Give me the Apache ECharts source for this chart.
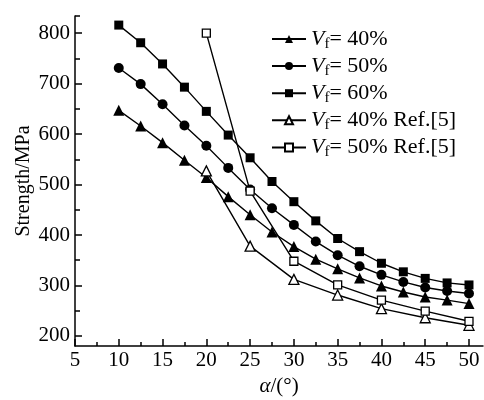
<!DOCTYPE html>
<html>
<head>
    <meta charset="utf-8">
    <title>Strength vs angle</title>
    <style>
        body { margin: 0; background: #fff; }
    </style>
</head>
<body>
    <div id="main" style="width: 484px;height:400px;"></div>

    <script src="https://cdnjs.cloudflare.com/ajax/libs/echarts/6.0.0/echarts.min.js"></script>
    <script>
        // angle values (deg)
        var angles = [10, 12.5, 15, 17.5, 20, 22.5, 25, 27.5, 30, 32.5, 35, 37.5, 40, 42.5, 45, 47.5, 50];
        var refAngles = [20, 25, 30, 35, 40, 45, 50];

        // strength (MPa)
        var vf40 = [647, 616, 583, 548, 514, 476, 440, 406, 377, 352, 333, 315, 299, 287, 277, 271, 264];
        var vf50 = [731, 699, 659, 617, 577, 533, 490, 453, 420, 387, 360, 338, 321, 307, 296, 289, 284];
        var vf60 = [816, 781, 739, 693, 645, 598, 553, 506, 466, 428, 393, 367, 344, 327, 314, 305, 301];
        var ref40 = [527, 378, 312, 281, 254, 236, 221];
        var ref50 = [800, 487, 348, 301, 271, 249, 229];

        var legendText = ['= 40%', '= 50%', '= 60%', '= 40% Ref.[5]', '= 50% Ref.[5]'];
        var xMajor = [5, 10, 15, 20, 25, 30, 35, 40, 45, 50];
        var xMinor = [7.5, 12.5, 17.5, 22.5, 27.5, 32.5, 37.5, 42.5, 47.5];
        var yMajor = [200, 300, 400, 500, 600, 700, 800];
        var yMinor = [250, 350, 450, 550, 650, 750, 834];

        function pairs(xs, ys) {
            var out = [];
            for (var i = 0; i < xs.length; i++) out.push([xs[i], ys[i]]);
            return out;
        }

        var font = 'Liberation Serif';
        var myChart = echarts.init(document.getElementById('main'));

        function mkSeries(name, data, symbol, size, open) {
            return {
                name: name,
                type: 'line',
                data: data,
                symbol: symbol,
                symbolSize: size,
                showSymbol: true,
                animation: false,
                lineStyle: { color: '#000', width: 1.4 },
                itemStyle: open
                    ? { color: '#fff', borderColor: '#000', borderWidth: 1.3 }
                    : { color: '#000', borderWidth: 0 },
                z: open ? 3 : 2
            };
        }

        var names = ['s40', 's50', 's60', 'r40', 'r50'];

        var option = {
            backgroundColor: '#fff',
            animation: false,
            grid: { left: 75, right: 1, top: 16, bottom: 54, outerBoundsMode: 'none' },
            legend: {
                orient: 'vertical',
                left: 271,
                top: 28,
                padding: 0,
                itemWidth: 34,
                itemHeight: 10,
                itemGap: 3.6,
                data: names,
                formatter: function (n) {
                    return '{v|V}{s|f}{t|' + legendText[names.indexOf(n)] + '}';
                },
                textStyle: {
                    rich: {
                        v: { fontFamily: font, fontStyle: 'italic', fontSize: 22, color: '#000' },
                        s: { fontFamily: font, fontSize: 15, color: '#000', padding: [10, 0, 0, 0] },
                        t: { fontFamily: font, fontSize: 22, color: '#000' }
                    }
                }
            },
            xAxis: [{
                type: 'value',
                min: 5,
                max: 51.6,
                interval: 5,
                name: '{a|α}/(°)',
                nameLocation: 'middle',
                nameGap: 25,
                nameTextStyle: {
                    fontFamily: font, fontSize: 21, color: '#000',
                    rich: { a: { fontFamily: font, fontStyle: 'italic', fontSize: 21, color: '#000' } }
                },
                axisLine: { lineStyle: { color: '#000', width: 1.5 } },
                axisTick: { inside: true, length: 7, lineStyle: { color: '#000', width: 1.5 }, customValues: xMajor },
                axisLabel: { customValues: xMajor, margin: 4, fontFamily: font, fontSize: 21, color: '#000' },
                splitLine: { show: false }
            }, {
                type: 'value',
                position: 'bottom',
                min: 5,
                max: 51.6,
                axisLine: { show: false },
                axisTick: { inside: true, length: 4, lineStyle: { color: '#000', width: 1.5 }, customValues: xMinor },
                axisLabel: { show: false },
                splitLine: { show: false }
            }],
            yAxis: [{
                type: 'value',
                min: 180,
                max: 834,
                interval: 100,
                name: 'Strength/MPa',
                nameLocation: 'middle',
                nameGap: 41,
                nameMoveOverlap: false,
                nameTextStyle: { fontFamily: font, fontSize: 20, color: '#000' },
                axisLine: { lineStyle: { color: '#000', width: 1.5 } },
                axisTick: { inside: true, length: 7, lineStyle: { color: '#000', width: 1.5 }, customValues: yMajor },
                axisLabel: { customValues: yMajor, margin: 5, fontFamily: font, fontSize: 21, color: '#000' },
                splitLine: { show: false }
            }, {
                type: 'value',
                position: 'left',
                min: 180,
                max: 834,
                axisLine: { show: false },
                axisTick: { inside: true, length: 5, lineStyle: { color: '#000', width: 1.5 }, customValues: yMinor },
                axisLabel: { show: false },
                splitLine: { show: false }
            }],
            series: [
                mkSeries('s40', pairs(angles, vf40), 'triangle', 11, false),
                mkSeries('s50', pairs(angles, vf50), 'circle', 10, false),
                mkSeries('s60', pairs(angles, vf60), 'rect', 9, false),
                mkSeries('r40', pairs(refAngles, ref40), 'triangle', 10, true),
                mkSeries('r50', pairs(refAngles, ref50), 'rect', 8, true)
            ]
        };

        myChart.setOption(option);
    </script>
</body>
</html>
